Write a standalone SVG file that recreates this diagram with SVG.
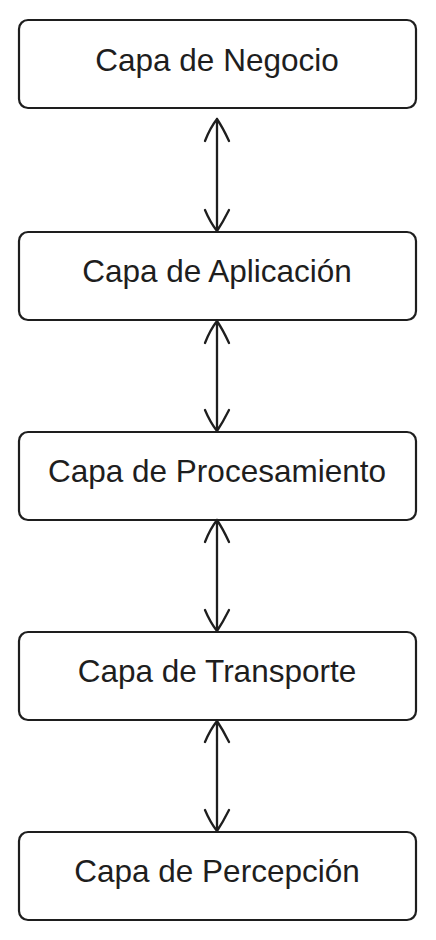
<svg xmlns="http://www.w3.org/2000/svg" width="436" height="940" viewBox="0 0 436 940">
<style>
.box{fill:#ffffff;stroke:#1e1e1e;stroke-width:2.2;}
.lbl{font-family:"Liberation Sans",Arial,sans-serif;font-size:31.5px;fill:#1e1e1e;text-anchor:middle;}
.con{fill:none;stroke:#1e1e1e;stroke-width:2.3;stroke-linecap:round;stroke-linejoin:round;}
</style>
<rect width="436" height="940" fill="#ffffff"/>
<g id="node-negocio"><rect class="box" x="19" y="20" width="397" height="88" rx="9"/><text class="lbl" x="217" y="70.5">Capa de Negocio</text></g>
<g id="node-aplicacion"><rect class="box" x="19" y="232" width="397" height="88" rx="9"/><text class="lbl" x="217" y="282">Capa de Aplicación</text></g>
<g id="node-procesamiento"><rect class="box" x="19" y="432" width="397" height="88" rx="9"/><text class="lbl" x="217" y="482">Capa de Procesamiento</text></g>
<g id="node-transporte"><rect class="box" x="19" y="632" width="397" height="88" rx="9"/><text class="lbl" x="217" y="682">Capa de Transporte</text></g>
<g id="node-percepcion"><rect class="box" x="19" y="832" width="397" height="88" rx="9"/><text class="lbl" x="217" y="882">Capa de Percepción</text></g>
<g id="connectors">
<path class="con" d="M217 119 L217 231 M205 141 Q210 128 217 119 Q223 128 229 141 M205 210 Q210 222 217 231 Q223 222 229 210"/>
<path class="con" d="M217 321 L217 431 M205 343 Q210 330 217 321 Q223 330 229 343 M205 410 Q210 422 217 431 Q223 422 229 410"/>
<path class="con" d="M217 520 L217 631 M205 542 Q210 529 217 520 Q223 529 229 542 M205 610 Q210 622 217 631 Q223 622 229 610"/>
<path class="con" d="M217 721 L217 831 M205 742 Q210 730 217 721 Q223 730 229 742 M205 810 Q210 822 217 831 Q223 822 229 810"/>
</g>
</svg>
